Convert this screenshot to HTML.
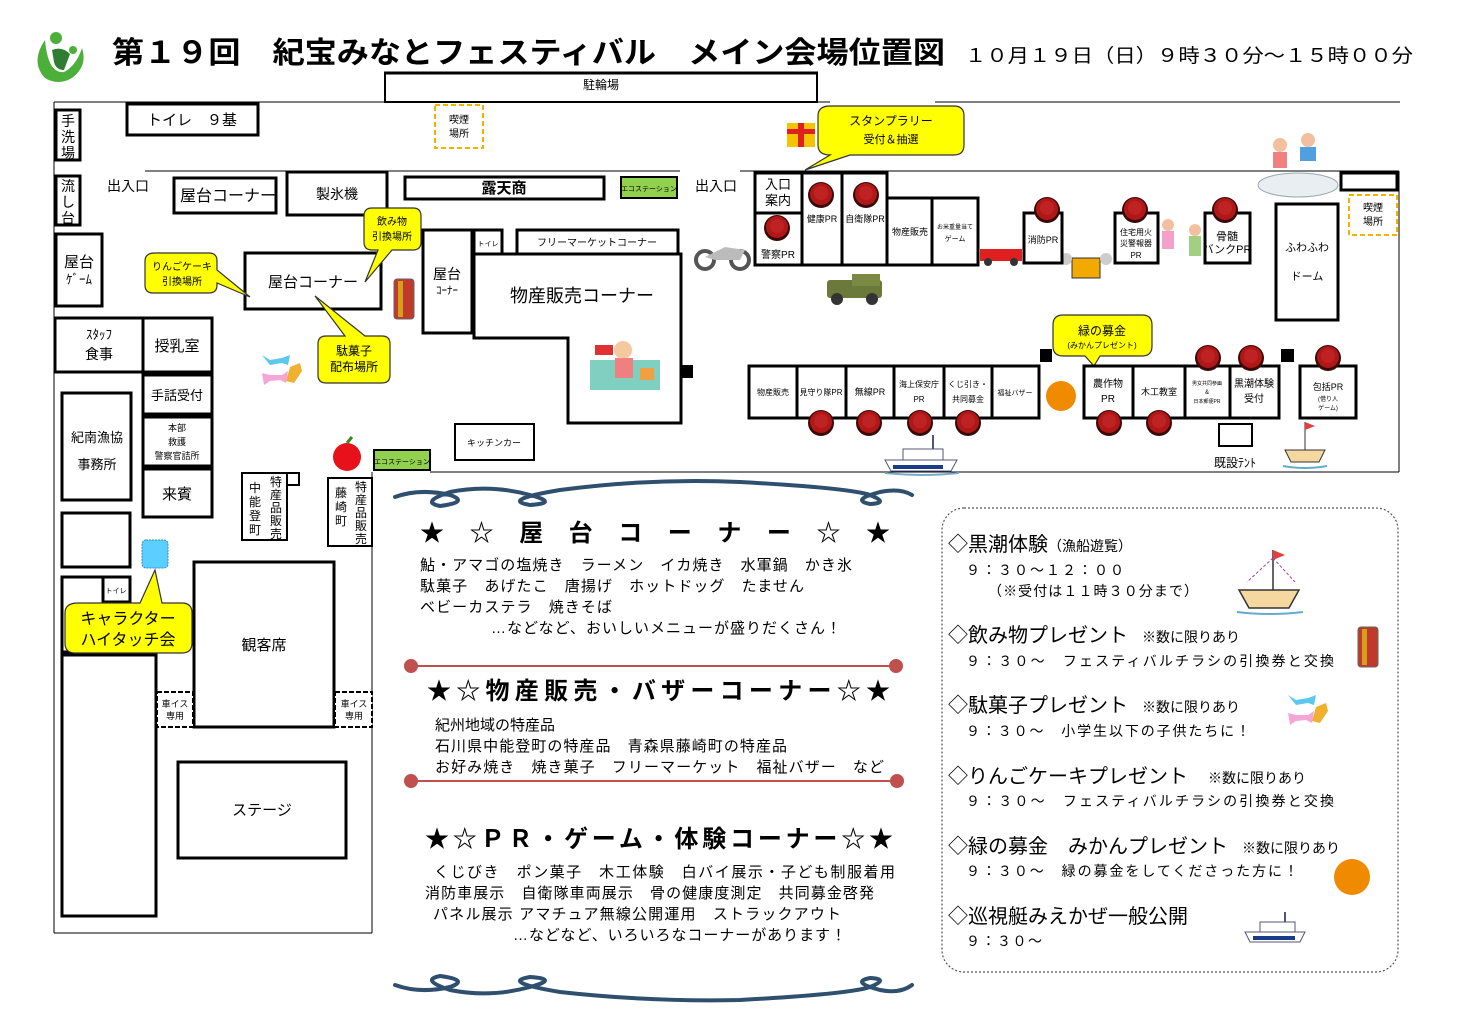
<!DOCTYPE html>
<html><head><meta charset="utf-8"><style>
html,body{margin:0;padding:0;background:#fff}
svg{display:block;font-family:"Liberation Sans","Noto Sans CJK JP",sans-serif}
</style></head><body>
<svg width="1466" height="1036" viewBox="0 0 1466 1036" xmlns="http://www.w3.org/2000/svg">
<defs>
<g id="btn"><circle r="13" fill="#3a0a0a"/><circle r="11" cy="-1" fill="#b01818"/><circle r="7" cy="-2" fill="#c82a2a" opacity=".6"/></g>
</defs>
<!-- logo -->
<path d="M45 40 Q30 62 45 78 Q58 86 72 78 Q88 66 82 48 Q76 66 64 72 Q48 74 45 40Z" fill="#4caf3a"/>
<circle cx="56" cy="38" r="6" fill="#4caf3a"/>
<path d="M52 50 Q62 46 70 54 L64 70 Q56 70 54 62Z" fill="#2e7d32"/>
<circle cx="73" cy="50" r="4" fill="#4caf3a"/>
<!-- title -->
<text x="112" y="63" font-size="30" font-weight="bold" textLength="833" lengthAdjust="spacingAndGlyphs">第１９回　紀宝みなとフェスティバル　メイン会場位置図</text>
<text x="965" y="62" font-size="19" textLength="448" lengthAdjust="spacingAndGlyphs">１０月１９日（日）９時３０分～１５時００分</text>
<!-- parking -->
<rect x="385" y="73" width="432" height="29" fill="#fff" stroke="#000" stroke-width="2"/>
<line x1="384" y1="73" x2="818" y2="73" stroke="#000" stroke-width="3"/>
<text x="601" y="89" font-size="12" text-anchor="middle">駐輪場</text>
<!-- outer lines -->
<g stroke="#000" stroke-width="1" fill="none">
<line x1="54" y1="102" x2="830" y2="102"/>
<line x1="935" y1="102" x2="1400" y2="102"/>
<line x1="54" y1="102" x2="54" y2="933"/>
<line x1="54" y1="933" x2="372" y2="933"/>
<line x1="372" y1="472" x2="372" y2="933"/>
<line x1="430" y1="472" x2="1399" y2="472"/>
<line x1="1399" y1="171" x2="1399" y2="472"/>
<line x1="145" y1="171" x2="680" y2="171"/>
<line x1="740" y1="171" x2="1399" y2="171"/>
</g>
<g stroke="#000" stroke-width="3" fill="#fff">
<rect x="56" y="110" width="24" height="50"/>
<rect x="127" y="104" width="131" height="31"/>
<rect x="56" y="176" width="24" height="49"/>
<rect x="174" y="178" width="102" height="35"/>
<rect x="287" y="172" width="100" height="43"/>
<rect x="405" y="177" width="199" height="22"/>
<rect x="56" y="234" width="46" height="72"/>
<rect x="245" y="253" width="136" height="56"/>
<rect x="423" y="230" width="49" height="103"/>
<rect x="474" y="230" width="28" height="24"/>
<rect x="517" y="230" width="161" height="24"/>
<path d="M474 254 H681 V423 H568 V338 H474Z"/>
<rect x="55" y="318" width="88" height="54"/>
<rect x="143" y="318" width="69" height="54"/>
<rect x="143" y="375" width="69" height="39"/>
<rect x="143" y="417" width="69" height="49"/>
<rect x="143" y="469" width="69" height="48"/>
<rect x="62" y="393" width="69" height="107"/>
<rect x="62" y="513" width="68" height="54"/>
<rect x="62" y="577" width="68" height="75"/>
<rect x="103" y="577" width="27" height="25"/>
<rect x="62" y="655" width="94" height="261"/>
<rect x="194" y="562" width="140" height="165"/>
<rect x="178" y="762" width="168" height="96"/>
<rect x="242" y="473" width="45" height="67" stroke-width="2"/>
<rect x="287" y="473" width="12" height="12" stroke-width="2"/>
<rect x="328" y="478" width="44" height="68" stroke-width="2"/>
<rect x="455" y="424" width="79" height="36" stroke-width="2"/>
</g>
<g stroke="#000" stroke-width="2" fill="#fff" stroke-dasharray="5,2">
<rect x="157" y="692" width="36" height="35"/>
<rect x="335" y="692" width="37" height="35"/>
</g>
<rect x="435" y="105" width="48" height="43" fill="none" stroke="#f0b400" stroke-width="2" stroke-dasharray="5,3"/>
<rect x="1349" y="195" width="48" height="40" fill="none" stroke="#f0b400" stroke-width="2" stroke-dasharray="5,3"/>
<rect x="621" y="177" width="56" height="21" fill="#92d050" stroke="#000" stroke-width="2"/>
<rect x="374" y="450" width="56" height="20" fill="#92d050" stroke="#000" stroke-width="2"/>
<rect x="681" y="365" width="12" height="13" fill="#000"/>
<rect x="142" y="540" width="26" height="28" rx="4" fill="#5bcfff" stroke="#2a8fc0" stroke-dasharray="2,1"/>
<!-- left texts -->
<g font-size="14" text-anchor="middle">
<text x="68" y="126">手</text><text x="68" y="142">洗</text><text x="68" y="158">場</text>
<text x="68" y="191">流</text><text x="68" y="207">し</text><text x="68" y="223">台</text>
<text x="192" y="125" font-size="15">トイレ　９基</text>
<text x="459" y="123" font-size="10">喫煙</text><text x="459" y="137" font-size="10">場所</text>
<text x="128" y="191" font-size="14">出入口</text>
<text x="228" y="201" font-size="16">屋台コーナー</text>
<text x="337" y="199" font-size="14">製氷機</text>
<text x="504" y="193" font-size="15" font-weight="bold">露天商</text>
<text x="649" y="191" font-size="7">エコステーション</text>
<text x="716" y="191" font-size="14">出入口</text>
<text x="79" y="267" font-size="15">屋台</text><text x="79" y="284" font-size="13">ｹﾞｰﾑ</text>
<text x="313" y="287" font-size="15">屋台コーナー</text>
<text x="447" y="279" font-size="14">屋台</text><text x="447" y="294" font-size="11">ｺｰﾅｰ</text>
<text x="488" y="246" font-size="7">トイレ</text>
<text x="597" y="246" font-size="10">フリーマーケットコーナー</text>
<text x="582" y="302" font-size="18">物産販売コーナー</text>
<text x="99" y="339" font-size="13">ｽﾀｯﾌ</text><text x="99" y="359" font-size="14">食事</text>
<text x="177" y="351" font-size="15">授乳室</text>
<text x="177" y="400" font-size="13">手話受付</text>
<text x="177" y="431" font-size="9">本部</text><text x="177" y="445" font-size="9">救護</text><text x="177" y="459" font-size="9">警察官詰所</text>
<text x="177" y="499" font-size="15">来賓</text>
<text x="97" y="442" font-size="13">紀南漁協</text><text x="97" y="469" font-size="13">事務所</text>
<text x="116" y="593" font-size="7">トイレ</text>
<text x="264" y="650" font-size="15">観客席</text>
<text x="262" y="815" font-size="15">ステージ</text>
<text x="175" y="707" font-size="9">車イス</text><text x="175" y="719" font-size="9">専用</text>
<text x="354" y="707" font-size="9">車イス</text><text x="354" y="719" font-size="9">専用</text>
<text x="494" y="446" font-size="9">キッチンカー</text>
<text x="402" y="464" font-size="7">エコステーション</text>
</g>
<g font-size="12" text-anchor="middle">
<text x="276" y="486">特</text><text x="276" y="499">産</text><text x="276" y="512">品</text><text x="276" y="525">販</text><text x="276" y="538">売</text>
<text x="255" y="492">中</text><text x="255" y="506">能</text><text x="255" y="520">登</text><text x="255" y="534">町</text>
<text x="361" y="491">特</text><text x="361" y="504">産</text><text x="361" y="517">品</text><text x="361" y="530">販</text><text x="361" y="543">売</text>
<text x="341" y="497">藤</text><text x="341" y="511">崎</text><text x="341" y="525">町</text>
</g>
<!-- bubbles -->
<g fill="#ffff00" stroke="#333" stroke-width="1.2">
<path d="M155 253 H209 Q217 253 217 261 V270 L250 297 L217 283 V285 Q217 293 209 293 H153 Q145 293 145 285 V261 Q145 253 155 253Z"/>
<path d="M372 208 H413 Q421 208 421 216 V242 Q421 250 413 250 H392 L365 282 L378 250 H372 Q364 250 364 242 V216 Q364 208 372 208Z"/>
<path d="M326 336 H345 L315 296 L365 336 H382 Q390 336 390 344 V375 Q390 383 382 383 H326 Q318 383 318 375 V344 Q318 336 326 336Z"/>
<path d="M78 603 H140 L155 570 L162 603 H182 Q192 603 192 613 V643 Q192 653 182 653 H75 Q65 653 65 643 V613 Q65 603 78 603Z"/>
<path d="M830 106 H954 Q964 106 964 116 V145 Q964 155 954 155 H850 L805 170 L830 155 Q818 155 818 145 V116 Q818 106 830 106Z"/>
<path d="M1063 315 H1142 Q1152 315 1152 325 V346 Q1152 356 1142 356 H1100 L1094 366 L1085 356 H1063 Q1053 356 1053 346 V325 Q1053 315 1063 315Z"/>
</g>
<g text-anchor="middle" font-size="10">
<text x="182" y="270">りんごケーキ</text><text x="182" y="285">引換場所</text>
<text x="392" y="225">飲み物</text><text x="392" y="240">引換場所</text>
<text x="354" y="355" font-size="12">駄菓子</text><text x="354" y="371" font-size="12">配布場所</text>
<text x="128" y="624" font-size="16">キャラクター</text><text x="128" y="645" font-size="16">ハイタッチ会</text>
<text x="891" y="125" font-size="12">スタンプラリー</text><text x="891" y="143" font-size="11">受付＆抽選</text>
<text x="1102" y="335" font-size="12">緑の募金</text><text x="1102" y="348" font-size="8">(みかんプレゼント)</text>
</g>
<!-- icons -->
<rect x="394" y="279" width="20" height="40" rx="3" fill="#c0392b" stroke="#666"/>
<rect x="398" y="281" width="5" height="36" fill="#d4a017"/>
<g transform="translate(262,355)"><path d="M0 0 L8 5 L20 3 L28 0 L26 10 L20 8 L8 10 Z" fill="#5bc8f0"/><path d="M0 18 L8 20 L20 20 L26 16 L24 28 L18 25 L8 26 L2 30Z" fill="#f4a6d7"/><path d="M28 12 L38 8 L40 16 L32 28 L24 26Z" fill="#f0b030"/></g>
<g transform="translate(1288,695)"><path d="M0 0 L8 5 L20 3 L28 0 L26 10 L20 8 L8 10 Z" fill="#5bc8f0"/><path d="M0 18 L8 20 L20 20 L26 16 L24 28 L18 25 L8 26 L2 30Z" fill="#f4a6d7"/><path d="M28 12 L38 8 L40 16 L32 28 L24 26Z" fill="#f0b030"/></g>
<circle cx="347" cy="457" r="14" fill="#e8101a"/><path d="M347 443 L352 437" stroke="#3a8a20" stroke-width="3"/>
<g transform="translate(590,340)"><rect x="0" y="20" width="70" height="30" fill="#7fd0c0"/><circle cx="33" cy="10" r="9" fill="#f4c9a0"/><rect x="25" y="18" width="18" height="20" fill="#f08080"/><rect x="5" y="5" width="18" height="10" fill="#e03030"/><rect x="50" y="28" width="14" height="12" fill="#f0a040"/></g>
<g transform="translate(695,235)"><circle cx="10" cy="25" r="9" fill="none" stroke="#555" stroke-width="4"/><circle cx="45" cy="25" r="9" fill="none" stroke="#555" stroke-width="4"/><path d="M10 22 L30 12 L50 15 L45 25 L20 25Z" fill="#bbb"/></g>
<g transform="translate(822,274)"><rect x="5" y="6" width="55" height="18" rx="3" fill="#6b7a3a"/><rect x="30" y="0" width="28" height="12" fill="#7a8a45"/><circle cx="15" cy="25" r="6" fill="#333"/><circle cx="50" cy="25" r="6" fill="#333"/></g>
<g transform="translate(980,245)"><rect x="0" y="4" width="42" height="12" fill="#e02020"/><circle cx="8" cy="17" r="4" fill="#333"/><circle cx="34" cy="17" r="4" fill="#333"/></g>
<g transform="translate(1072,255)"><rect x="0" y="3" width="28" height="20" fill="#f2a900" stroke="#333"/><circle cx="-6" cy="4" r="6" fill="#ccc"/><circle cx="34" cy="4" r="6" fill="#ccc"/></g>
<g transform="translate(1160,225)"><circle cx="8" cy="0" r="6" fill="#f2c0a0"/><rect x="2" y="6" width="12" height="18" fill="#f5a0c8"/><circle cx="35" cy="5" r="6" fill="#f2c0a0"/><rect x="29" y="11" width="12" height="20" fill="#a0d080"/></g>
<g transform="translate(787,117)"><rect x="0" y="6" width="28" height="24" fill="#f5c400"/><rect x="11" y="6" width="6" height="24" fill="#e02020"/><rect x="0" y="12" width="28" height="5" fill="#e02020"/></g>
<g transform="translate(1258,130)"><ellipse cx="40" cy="55" rx="40" ry="12" fill="#e8eef2" stroke="#9aa"/><circle cx="22" cy="15" r="7" fill="#f2c0a0"/><rect x="15" y="22" width="14" height="16" fill="#f08080"/><circle cx="50" cy="10" r="7" fill="#f2c0a0"/><rect x="42" y="17" width="16" height="14" fill="#50a0e0"/></g>
<circle cx="1061" cy="396" r="15" fill="#f08a00"/>
<circle cx="1352" cy="877" r="18" fill="#f08a00"/>
<rect x="1358" y="627" width="20" height="40" rx="3" fill="#c0392b" stroke="#666"/><rect x="1362" y="629" width="5" height="36" fill="#d4a017"/>
<g id="ship" transform="translate(885,435)"><path d="M0 25 L72 25 L66 36 L6 36Z" fill="#fff" stroke="#557"/><rect x="18" y="14" width="40" height="11" fill="#fff" stroke="#557"/><line x1="48" y1="0" x2="48" y2="14" stroke="#557" stroke-width="2"/><rect x="8" y="30" width="50" height="4" fill="#1a3a8a"/><path d="M0 38 Q36 42 74 38" stroke="#7ac" stroke-width="2" fill="none"/></g>
<g transform="translate(1245,912)"><path d="M0 20 L60 20 L55 30 L5 30Z" fill="#fff" stroke="#557"/><rect x="15" y="10" width="35" height="10" fill="#fff" stroke="#557"/><line x1="40" y1="0" x2="40" y2="10" stroke="#557" stroke-width="2"/><rect x="8" y="24" width="42" height="4" fill="#1a3a8a"/></g>
<g transform="translate(1283,422)"><path d="M2 28 L42 28 L36 40 L8 40Z" fill="#f5d7a0" stroke="#333"/><line x1="22" y1="0" x2="22" y2="28" stroke="#333"/><path d="M22 0 L32 4 L22 8Z" fill="#e04040"/><path d="M0 44 Q22 48 44 44" stroke="#6ac" fill="none" stroke-width="2"/></g>
<g transform="translate(1237,550)"><path d="M2 40 L62 40 L52 58 L12 58Z" fill="#f5d7a0" stroke="#333" stroke-width="1.5"/><line x1="36" y1="0" x2="36" y2="40" stroke="#333" stroke-width="1.5"/><path d="M36 0 L48 5 L36 10Z" fill="#e04040"/><path d="M36 8 L10 32 M36 8 L58 32" stroke="#a040a0" stroke-dasharray="3,2"/><path d="M0 62 Q32 66 66 62" stroke="#6ac" fill="none" stroke-width="2"/></g>
<!-- right area boxes -->
<g stroke="#000" stroke-width="3" fill="#fff">
<rect x="755" y="173" width="47" height="40"/>
<rect x="755" y="213" width="47" height="52"/>
<rect x="802" y="173" width="40" height="92"/>
<rect x="842" y="173" width="45" height="92"/>
<rect x="887" y="198" width="45" height="67"/>
<rect x="932" y="198" width="46" height="67"/>
<rect x="1024" y="213" width="38" height="50"/>
<rect x="1115" y="213" width="43" height="50"/>
<rect x="1205" y="213" width="45" height="50"/>
<rect x="1276" y="204" width="62" height="116"/>
<rect x="1341" y="173" width="56" height="17"/>
<rect x="749" y="366" width="48" height="52"/>
<rect x="797" y="366" width="49" height="52"/>
<rect x="846" y="366" width="48" height="52"/>
<rect x="894" y="366" width="50" height="52"/>
<rect x="944" y="366" width="48" height="52"/>
<rect x="992" y="366" width="47" height="52"/>
<rect x="1084" y="366" width="49" height="52"/>
<rect x="1133" y="366" width="52" height="52"/>
<rect x="1185" y="366" width="45" height="52"/>
<rect x="1230" y="366" width="49" height="52"/>
<rect x="1300" y="366" width="56" height="52"/>
<rect x="1219" y="424" width="33" height="22" stroke-width="2"/>
</g>
<rect x="1040" y="349" width="12" height="13" fill="#000"/>
<rect x="1281" y="349" width="13" height="13" fill="#000"/>
<g text-anchor="middle" font-size="9">
<text x="778" y="189" font-size="13">入口</text><text x="778" y="205" font-size="13">案内</text>
<text x="778" y="258" font-size="10">警察PR</text>
<text x="822" y="222">健康PR</text>
<text x="865" y="222">自衛隊PR</text>
<text x="910" y="235">物産販売</text>
<text x="955" y="229" font-size="6">お米重量当て</text><text x="955" y="241" font-size="7">ゲーム</text>
<text x="1043" y="243">消防PR</text>
<text x="1136" y="235" font-size="8">住宅用火</text><text x="1136" y="246" font-size="8">災警報器</text><text x="1136" y="258" font-size="8">PR</text>
<text x="1227" y="240" font-size="11">骨髄</text><text x="1227" y="253" font-size="11">バンクPR</text>
<text x="1307" y="251" font-size="11">ふわふわ</text><text x="1307" y="280" font-size="11">ドーム</text>
<text x="1373" y="211" font-size="10">喫煙</text><text x="1373" y="225" font-size="10">場所</text>
<text x="773" y="395" font-size="8">物産販売</text>
<text x="821" y="395" font-size="8">見守り隊PR</text>
<text x="870" y="395">無線PR</text>
<text x="919" y="387" font-size="8">海上保安庁</text><text x="919" y="402" font-size="8">PR</text>
<text x="968" y="387" font-size="8">くじ引き・</text><text x="968" y="402" font-size="8">共同募金</text>
<text x="1015" y="395" font-size="7">福祉バザー</text>
<text x="1108" y="387" font-size="10">農作物</text><text x="1108" y="402" font-size="10">PR</text>
<text x="1159" y="395">木工教室</text>
<text x="1207" y="385" font-size="5">男女共同参画</text><text x="1207" y="394" font-size="6">&amp;</text><text x="1207" y="403" font-size="5">日本郵便PR</text>
<text x="1254" y="387" font-size="10">黒潮体験</text><text x="1254" y="402" font-size="10">受付</text>
<text x="1328" y="390" font-size="9">包括PR</text><text x="1328" y="401" font-size="6">(借り人</text><text x="1328" y="410" font-size="6">ゲーム)</text>
<text x="1235" y="467" font-size="12">既設ﾃﾝﾄ</text>
</g>
<!-- buttons -->
<use href="#btn" x="821" y="195"/><use href="#btn" x="866" y="195"/><use href="#btn" x="777" y="228"/>
<use href="#btn" x="1047" y="210"/><use href="#btn" x="1135" y="210"/><use href="#btn" x="1225" y="210"/>
<use href="#btn" x="1208" y="358"/><use href="#btn" x="1251" y="358"/><use href="#btn" x="1328" y="358"/>
<use href="#btn" x="821" y="423"/><use href="#btn" x="869" y="423"/><use href="#btn" x="920" y="423"/><use href="#btn" x="968" y="423"/>
<use href="#btn" x="1109" y="423"/><use href="#btn" x="1159" y="423"/>
<!-- swirls -->
<g stroke="#2e4f6e" stroke-width="4" fill="none" stroke-linecap="round">
<path d="M395 497 Q420 488 450 495 Q470 502 440 506 Q420 502 450 492 Q490 484 530 495 Q560 503 530 505 Q500 500 560 490 Q650 478 740 482 Q850 488 870 495 Q890 503 870 504 Q850 500 880 492 Q900 488 912 495"/>
<path d="M395 985 Q420 994 450 987 Q470 980 440 976 Q420 980 450 990 Q490 998 530 987 Q560 979 530 977 Q500 982 560 992 Q650 1002 740 1000 Q850 994 870 987 Q890 979 870 978 Q850 982 880 990 Q900 994 912 985"/>
</g>
<!-- center text -->
<g font-size="24" font-weight="bold">
<text x="420" y="541" textLength="470" lengthAdjust="spacing">★☆屋台コーナー☆★</text>
<text x="427" y="699" textLength="463" lengthAdjust="spacing">★☆物産販売・バザーコーナー☆★</text>
<text x="425" y="847" textLength="468" lengthAdjust="spacing">★☆ＰＲ・ゲーム・体験コーナー☆★</text>
</g>
<g font-size="15">
<text x="420" y="570" textLength="432" lengthAdjust="spacing">鮎・アマゴの塩焼き　ラーメン　イカ焼き　水軍鍋　かき氷</text>
<text x="420" y="591" textLength="384" lengthAdjust="spacing">駄菓子　あげたこ　唐揚げ　ホットドッグ　たません</text>
<text x="420" y="612" textLength="192" lengthAdjust="spacing">ベビーカステラ　焼きそば</text>
<text x="491" y="633" textLength="350" lengthAdjust="spacing">…などなど、おいしいメニューが盛りだくさん！</text>
<text x="435" y="730">紀州地域の特産品</text>
<text x="435" y="751" textLength="352" lengthAdjust="spacing">石川県中能登町の特産品　青森県藤崎町の特産品</text>
<text x="435" y="772" textLength="449" lengthAdjust="spacing">お好み焼き　焼き菓子　フリーマーケット　福祉バザー　など</text>
<text x="434" y="877" textLength="461" lengthAdjust="spacing">くじびき　ポン菓子　木工体験　白バイ展示・子ども制服着用</text>
<text x="425" y="898" textLength="449" lengthAdjust="spacing">消防車展示　自衛隊車両展示　骨の健康度測定　共同募金啓発</text>
<text x="433" y="919" textLength="408" lengthAdjust="spacing">パネル展示 アマチュア無線公開運用　ストラックアウト</text>
<text x="513" y="940" textLength="333" lengthAdjust="spacing">…などなど、いろいろなコーナーがあります！</text>
</g>
<g stroke="#c0504d" stroke-width="2" fill="#c0504d">
<line x1="411" y1="666" x2="896" y2="666"/><circle cx="411" cy="666" r="6"/><circle cx="896" cy="666" r="6"/>
<line x1="411" y1="781" x2="897" y2="781"/><circle cx="411" cy="781" r="6"/><circle cx="897" cy="781" r="6"/>
</g>
<!-- info box -->
<rect x="942" y="508" width="456" height="464" rx="22" fill="none" stroke="#555" stroke-width="1.2" stroke-dasharray="2,2"/>
<g font-size="20">
<text x="948" y="551">◇黒潮体験<tspan font-size="14">（漁船遊覧）</tspan></text>
<text x="948" y="642">◇飲み物プレゼント<tspan font-size="14" dx="14">※数に限りあり</tspan></text>
<text x="948" y="712">◇駄菓子プレゼント<tspan font-size="14" dx="14">※数に限りあり</tspan></text>
<text x="948" y="783">◇りんごケーキプレゼント<tspan font-size="14" dx="20">※数に限りあり</tspan></text>
<text x="948" y="853">◇緑の募金　みかんプレゼント<tspan font-size="14" dx="14">※数に限りあり</tspan></text>
<text x="948" y="923">◇巡視艇みえかぜ一般公開</text>
</g>
<g font-size="14">
<text x="966" y="575" textLength="158" lengthAdjust="spacing">９：３０～１２：００</text>
<text x="988" y="596" textLength="210" lengthAdjust="spacing">（※受付は１１時３０分まで）</text>
<text x="966" y="666" textLength="368" lengthAdjust="spacing">９：３０～　フェスティバルチラシの引換券と交換</text>
<text x="966" y="736" textLength="284" lengthAdjust="spacing">９：３０～　小学生以下の子供たちに！</text>
<text x="966" y="806" textLength="368" lengthAdjust="spacing">９：３０～　フェスティバルチラシの引換券と交換</text>
<text x="966" y="876" textLength="332" lengthAdjust="spacing">９：３０～　緑の募金をしてくださった方に！</text>
<text x="966" y="946" textLength="76" lengthAdjust="spacing">９：３０～</text>
</g>
</svg>
</body></html>
